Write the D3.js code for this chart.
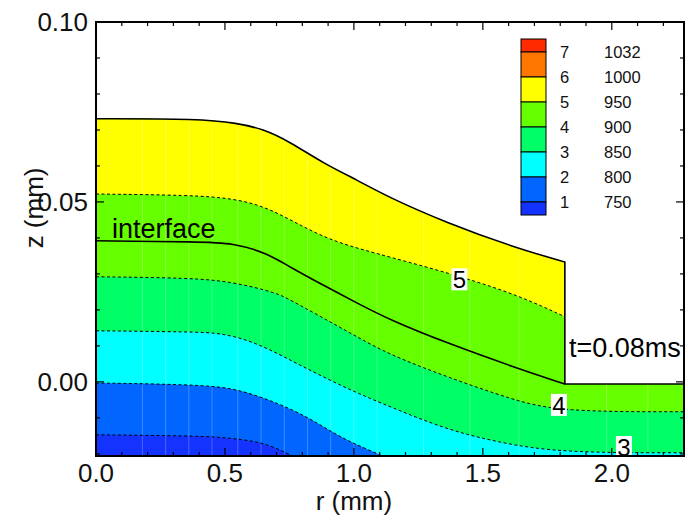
<!DOCTYPE html>
<html>
<head>
<meta charset="utf-8">
<script src="https://cdn.jsdelivr.net/npm/d3@7"></script>
<style>
  body { margin: 0; background: #fff; }
  svg { display: block; font-family: "Liberation Sans", Arial, sans-serif; }
  .frame { fill: none; stroke: #000; stroke-width: 2; }
  .tick-line { stroke: #000; stroke-width: 1.2; }
  .tick-label { font-size: 26px; fill: #111; }
  .axis-title { font-size: 26px; fill: #111; }
  .contour { fill: none; stroke: #000; stroke-width: 1; stroke-dasharray: 3 2.5; }
  .interface { fill: none; stroke: #000; stroke-width: 1.6; }
  .outline { fill: none; stroke: #000; stroke-width: 1.6; }
  .mesh { stroke: #fff; stroke-opacity: 0.3; stroke-width: 0.8; }
  .note { font-size: 27px; fill: #000; }
  .clabel { font-size: 24px; fill: #000; }
  .legend-text { font-size: 16.5px; fill: #111; }
</style>
</head>
<body>
<div id="chart"></div>
<script>
const W = 688, H = 521;
const margin = { top: 22, right: 4, bottom: 65, left: 96 };
const width = W - margin.left - margin.right;
const height = H - margin.top - margin.bottom;

// ──── Data (r, z in mm) ────
const levels = [1, 2, 3, 4, 5, 6, 7];
const levelValues = [750, 800, 850, 900, 950, 1000, 1032];
const bandColors = ["#1433ff", "#0066ff", "#00ffff", "#00ff66", "#66ff00", "#ffff00", "#ff7700", "#ff2a00"];

const topSurface = [[0, .0731], [.403, .0731], [.547, .0719], [.647, .0703], [.752, .0667], [.880, .0608],
  [1.012, .0561], [1.140, .0511], [1.360, .0442], [1.616, .0375], [1.818, .0333]];
const stepR = 1.818;
const stepZ = -0.0006;

const contour950 = [[0, .0522], [.364, .0519], [.531, .0510], [.662, .0486], [.802, .0431], [.934, .0386],
  [1.140, .0347], [1.419, .0292], [1.643, .0239], [1.818, .0181]];
const contour900 = [[0, .0292], [.364, .0289], [.531, .0278], [.702, .0247], [.752, .0228], [.880, .0178],
  [1.012, .0125], [1.140, .0075], [1.360, .0014], [1.616, -.0050], [1.798, -.0083], [2.28, -.0083]];
const contour850 = [[0, .0142], [.364, .0139], [.492, .0136], [.624, .0108], [.752, .0061], [.880, .0014],
  [1.012, -.0031], [1.140, -.0069], [1.360, -.0133], [1.566, -.0169], [1.798, -.0197], [2.28, -.0197]];
const contour800 = [[0, -.0003], [.430, -.0008], [.558, -.0022], [.702, -.0058], [.818, -.0097], [.907, -.0136],
  [.984, -.0167], [1.12, -.0208], [1.16, -.0225]];
const contour750 = [[0, -.0147], [.364, -.0150], [.473, -.0153], [.578, -.0161], [.663, -.0172], [.764, -.0206],
  [.80, -.0222]];
const interfaceLine = [[0, .0392], [.403, .0389], [.531, .0386], [.663, .0358], [.752, .0319], [.880, .0269],
  [1.012, .0219], [1.140, .0172], [1.360, .0108], [1.616, .0042], [1.818, -.0006]];

const contours = [contour750, contour800, contour850, contour900, contour950];
const contourLabels = [
  { text: "5", r: 1.409, z: .0285 },
  { text: "4", r: 1.795, z: -.0064 },
  { text: "3", r: 2.047, z: -.0181 }
];
const meshR = [.18, .27, .36, .45, .55, .64, .73, .82, .91, 1.0, 1.09, 1.27, 1.45, 1.64, 1.98, 2.14];

const xTicks = [0, 0.5, 1.0, 1.5, 2.0];
const yTicks = [0, 0.05, 0.10];

// ──── Scales ────
const x = d3.scaleLinear().domain([0, 2.28]).range([0, width]);
const y = d3.scaleLinear().domain([-0.0206, 0.10]).range([height, 0]);

const line = d3.line().x(d => x(d[0])).y(d => y(d[1])).curve(d3.curveBasis);
const pt = d => `${x(d[0])},${y(d[1])}`;

const svg = d3.select("#chart").append("svg")
  .attr("width", W).attr("height", H);

const defs = svg.append("defs");
defs.append("clipPath").attr("id", "plot-clip")
  .append("rect").attr("width", width).attr("height", height);

// domain shape: top surface, step, flat right part
const domainPath = line(topSurface)
  + `L${pt([stepR, stepZ])}L${pt([2.28, stepZ])}L${pt([2.28, -0.04])}L${pt([0, -0.04])}Z`;
defs.append("clipPath").attr("id", "domain-clip")
  .append("path").attr("d", domainPath);

const g = svg.append("g").attr("transform", `translate(${margin.left},${margin.top})`);

const plot = g.append("g").attr("clip-path", "url(#plot-clip)");
const field = plot.append("g").attr("clip-path", "url(#domain-clip)");

// base band (below lowest level)
field.append("path").attr("d", domainPath).attr("fill", bandColors[0]);

// bands above each contour
contours.forEach((c, i) => {
  const last = c[c.length - 1];
  const d = `M${pt([-0.1, c[0][1]])}L` + line(c).slice(1)
    + `L${pt([2.5, last[1]])}L${pt([2.5, 0.2])}L${pt([-0.1, 0.2])}Z`;
  field.append("path").attr("d", d).attr("fill", bandColors[i + 1]);
});

// mesh lines
field.selectAll("line.mesh")
  .data(meshR)
  .join("line")
  .attr("class", "mesh")
  .attr("x1", d => x(d)).attr("x2", d => x(d))
  .attr("y1", 0).attr("y2", height);

// contour lines
plot.selectAll("path.contour")
  .data(contours)
  .join("path")
  .attr("class", "contour")
  .attr("d", line);

plot.append("path").attr("class", "interface").attr("d", line(interfaceLine));

plot.append("path").attr("class", "outline")
  .attr("d", line(topSurface) + `L${pt([stepR, stepZ])}L${pt([2.28, stepZ])}`);

// contour labels
const cl = plot.selectAll("g.clabel")
  .data(contourLabels)
  .join("g")
  .attr("transform", d => `translate(${x(d.r)},${y(d.z)})`);
cl.append("rect").attr("x", -8).attr("y", -11).attr("width", 16).attr("height", 22).attr("fill", "#fff");
cl.append("text").attr("class", "clabel")
  .attr("text-anchor", "middle").attr("dy", "0.36em")
  .text(d => d.text);

// ──── Axes frame and ticks ────
g.append("rect").attr("class", "frame").attr("width", width).attr("height", height);

const xMinor = d3.range(1, 23).map(i => i / 10);
const yMinor = d3.range(-2, 10).map(i => i / 100);

const isMajorX = v => Math.abs(v * 2 - Math.round(v * 2)) < 1e-6;
const isMajorY = v => Math.abs(v * 20 - Math.round(v * 20)) < 1e-6;

const ticksG = g.append("g");
xMinor.forEach(v => {
  const len = isMajorX(v) ? 8 : 4;
  ticksG.append("line").attr("class", "tick-line")
    .attr("x1", x(v)).attr("x2", x(v)).attr("y1", height).attr("y2", height - len);
  ticksG.append("line").attr("class", "tick-line")
    .attr("x1", x(v)).attr("x2", x(v)).attr("y1", 0).attr("y2", len);
});
yMinor.forEach(v => {
  const len = isMajorY(v) ? 8 : 4;
  ticksG.append("line").attr("class", "tick-line")
    .attr("y1", y(v)).attr("y2", y(v)).attr("x1", 0).attr("x2", len);
  ticksG.append("line").attr("class", "tick-line")
    .attr("y1", y(v)).attr("y2", y(v)).attr("x1", width).attr("x2", width - len);
});

g.selectAll("text.xlab")
  .data(xTicks)
  .join("text")
  .attr("class", "tick-label")
  .attr("x", d => x(d)).attr("y", height + 26)
  .attr("text-anchor", "middle")
  .text(d3.format(".1f"));

g.selectAll("text.ylab")
  .data(yTicks)
  .join("text")
  .attr("class", "tick-label")
  .attr("x", -8).attr("y", d => y(d)).attr("dy", "0.35em")
  .attr("text-anchor", "end")
  .text(d3.format(".2f"));

g.append("text").attr("class", "axis-title")
  .attr("x", x(1.0)).attr("y", height + 54)
  .attr("text-anchor", "middle")
  .text("r (mm)");

g.append("text").attr("class", "axis-title")
  .attr("transform", "rotate(-90)")
  .attr("x", -(y(0.05) + 6)).attr("y", -53)
  .attr("text-anchor", "middle")
  .text("z (mm)");

// ──── Annotations ────
g.append("text").attr("class", "note")
  .attr("x", x(0.062)).attr("y", y(0.040))
  .text("interface");

g.append("text").attr("class", "note")
  .attr("x", x(1.834)).attr("y", y(0.0069))
  .text("t=0.08ms");

// ──── Legend ────
const legend = svg.append("g").attr("transform", "translate(521,39)");
const sw = 25, sh = 25, half = 13;
const swatches = bandColors.map((c, i) => {
  const k = bandColors.length - 1 - i; // top: highest band
  return { color: bandColors[k], k };
});
let yy = 0;
swatches.forEach((s, i) => {
  const h = (i === 0 || i === swatches.length - 1) ? half : sh;
  legend.append("rect")
    .attr("x", 0).attr("y", yy).attr("width", sw).attr("height", h)
    .attr("fill", s.color).attr("stroke", "#000").attr("stroke-width", 1);
  yy += h;
});
const legendRows = levels.slice().reverse().map((lv, i) => ({ lv, val: levelValues[levelValues.length - 1 - i] }));
legend.selectAll("text.lvl")
  .data(legendRows)
  .join("text")
  .attr("class", "legend-text")
  .attr("x", 39).attr("y", (d, i) => half + i * sh).attr("dy", "0.36em")
  .text(d => d.lv);
legend.selectAll("text.val")
  .data(legendRows)
  .join("text")
  .attr("class", "legend-text")
  .attr("x", 83).attr("y", (d, i) => half + i * sh).attr("dy", "0.36em")
  .text(d => d.val);
</script>
</body>
</html>
